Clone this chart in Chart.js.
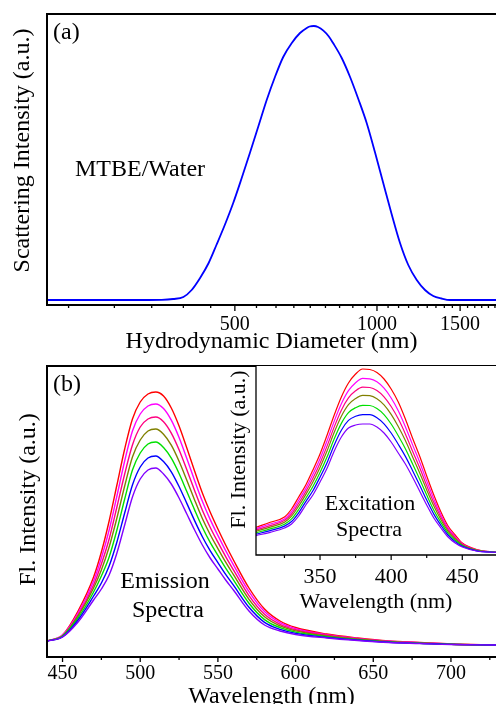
<!DOCTYPE html>
<html lang="en">
<head>
<meta charset="UTF-8">
<title>DLS and fluorescence spectra</title>
<style>
  body { margin: 0; width: 496px; height: 704px; overflow: hidden; background: #fff; position: relative; }
  canvas { position: absolute; }
</style>
</head>
<body>
<canvas id="dlsChart" width="496" height="360" style="left:0;top:0"></canvas>
<canvas id="emChart" width="496" height="360" style="left:0;top:360px"></canvas>
<canvas id="exChart" width="296" height="260" style="left:200px;top:360px"></canvas>

<script src="https://cdn.jsdelivr.net/npm/chart.js"></script>
<script>
// ---- (a) DLS size distribution ----
const diam = [200, 300, 350, 370, 389, 405, 422, 440, 457, 476, 496, 517, 538, 561, 584, 608, 633, 660, 687, 710, 720, 735,
              750, 770, 790, 808, 842, 877, 913, 951, 990, 1031, 1074, 1119, 1165, 1214, 1264, 1316, 1370, 1428, 1550, 1787];
const scatter = [5, 5, 5.2, 6, 8, 15, 27, 42, 60, 80, 102, 127, 152, 179, 205, 228, 248, 262, 272, 277, 278.5, 279,
                 278, 274.4, 268.8, 261.7, 247, 228, 206, 182, 153, 122, 91, 62, 40, 25, 15, 9, 6.5, 5, 5, 5];
const diamMajor = [500, 1000, 1500];
const diamMinor = [222.2, 277.8, 333.3, 388.9, 444.4, 555.6, 611.1, 666.7, 722.2, 777.8, 833.3, 888.9, 944.4,
                   1055.6, 1111.1, 1166.7, 1222.2, 1277.8, 1333.3, 1388.9, 1444.4, 1555.6, 1611.1, 1666.7, 1722.2, 1777.8];

// ---- (b) emission spectra ----
const wl = [440, 450, 460, 470, 475, 480, 485, 490, 495, 500, 505, 510, 515, 520, 525, 530, 535, 540, 545, 550, 555, 560, 570, 580, 590, 600, 620, 640, 660, 680, 700, 729];
const emRed     = [16, 22, 46, 80, 105, 136, 172, 208, 238, 255, 263, 265, 261, 249, 231, 209, 186, 164, 145, 128, 112, 97, 69, 48, 36, 29.5, 23, 19, 16, 14.5, 13, 12];
const emMagenta = [16, 22, 44, 76, 99, 127, 161, 196, 226, 243, 251, 253, 248.5, 236.8, 219.5, 198.4, 176.6, 155.7, 137.6, 121.6, 106.4, 92.2, 65.3, 45.4, 34.4, 28.4, 22.4, 18.6, 15.8, 14.4, 12.9, 12];
const emPink    = [16, 21, 42, 72, 93, 118, 150, 183, 212, 230, 238, 240, 235.3, 223.9, 207.2, 187.2, 166.5, 146.8, 129.8, 114.8, 100.4, 87.1, 61.4, 42.7, 32.7, 27.2, 21.7, 18.2, 15.5, 14.2, 12.8, 12];
const emOlive   = [16, 21, 41, 69, 87, 110, 139, 171, 200, 217, 226, 228, 222.8, 211.8, 195.7, 176.7, 157.1, 138.5, 122.5, 108.4, 94.8, 82.3, 57.7, 40.2, 31.1, 26.1, 21, 17.8, 15.3, 14, 12.8, 12];
const emGreen   = [16, 21, 39, 65, 81, 100, 127, 158, 187, 204, 213, 215, 209.5, 198.8, 183.5, 165.4, 147.1, 129.7, 114.6, 101.6, 88.9, 77.2, 53.8, 37.4, 29.4, 24.9, 20.4, 17.3, 15, 13.8, 12.7, 12];
const emBlue    = [16, 20, 37, 61, 74, 91, 115, 144, 172, 190, 199, 201, 195.5, 185.2, 170.5, 153.6, 136.4, 120.3, 106.4, 94.4, 82.6, 71.8, 49.7, 34.6, 27.6, 23.6, 19.6, 16.9, 14.7, 13.6, 12.6, 12];
const emViolet  = [16, 20, 35, 57, 68, 82, 104, 132, 160, 178, 187, 189, 183, 173, 159, 143, 127, 112, 99, 88, 77, 67, 46, 32, 26, 22.5, 19, 16.5, 14.5, 13.5, 12.5, 12];
const emMajor = [450, 500, 550, 600, 650, 700];
const emMinor = [475, 525, 575, 625, 675, 725];

// ---- (b) inset: excitation spectra ----
const ex = [305, 315, 325, 330, 335, 340, 345, 350, 355, 360, 365, 370, 375, 380, 385, 390, 395, 400, 405, 410, 415, 420, 425, 430, 435, 440, 445, 450, 460, 474];
const exRed     = [27.7, 32.7, 38, 46, 58, 70, 85, 101, 120, 140, 158, 172, 181, 186, 185.5, 182.5, 176, 166, 153, 136, 117, 99, 79, 60, 43, 29, 20, 12, 5.5, 2.7];
const exMagenta = [26.3, 31, 36.1, 43.4, 54.8, 66.6, 80.7, 96.2, 114.4, 133.9, 151.2, 164.3, 172.3, 176.6, 176.2, 173.2, 166.8, 157, 144.3, 128.3, 110.4, 93, 74.1, 56.1, 40.3, 27.1, 18.6, 11.3, 5.2, 2.7];
const exPink    = [25, 29.4, 34.4, 41, 51.7, 63.4, 76.7, 91.8, 109.1, 128.1, 144.8, 157.1, 164.2, 167.8, 167.5, 164.5, 158.2, 148.5, 136.2, 121.1, 104.1, 87.4, 69.4, 52.4, 37.7, 25.4, 17.4, 10.7, 5, 2.7];
const exOlive   = [23.7, 27.9, 32.7, 38.8, 48.9, 60.4, 73, 87.6, 104.2, 122.7, 138.8, 150.4, 156.5, 159.6, 159.3, 156.3, 150.1, 140.6, 128.5, 114.4, 98.3, 82.2, 65.1, 49, 35.3, 23.7, 16.2, 10.1, 4.8, 2.7];
const exGreen   = [22.2, 26.1, 30.7, 36.1, 45.5, 56.8, 68.5, 82.5, 98.2, 116.2, 131.6, 142.3, 147.3, 149.7, 149.5, 146.5, 140.4, 131, 119.3, 106.3, 91.3, 75.9, 59.9, 44.8, 32.4, 21.7, 14.7, 9.4, 4.5, 2.7];
const exBlue    = [20.8, 24.4, 28.9, 33.5, 42.2, 53.4, 64.2, 77.8, 92.6, 110.1, 124.8, 134.6, 138.7, 140.3, 140.3, 137.3, 131.2, 122, 110.7, 98.6, 84.6, 70, 54.9, 40.9, 29.7, 19.9, 13.4, 8.7, 4.2, 2.7];
const exViolet  = [19.4, 22.7, 27, 31, 39, 50, 60, 73, 87, 104, 118, 127, 130, 131, 131, 128, 122, 113, 102, 91, 78, 64, 50, 37, 27, 18, 12, 8, 4, 2.7];
const exMajor = [350, 400, 450];
const exMinor = [325, 375, 425];

const serif = "'Liberation Serif', 'Times New Roman', serif";
Chart.defaults.font.family = serif;
Chart.defaults.color = '#000';

// axis frame, outward tick marks and free text notes (Origin look)
const frame = {
  id: 'frame',
  beforeDraw(chart, args, o) {
    if (!o.fill) return;
    const { ctx, chartArea: a } = chart;
    ctx.save();
    ctx.fillStyle = '#fff';
    ctx.fillRect(a.left, a.top, a.right - a.left, a.bottom - a.top);
    ctx.restore();
  },
  afterDraw(chart, args, o) {
    const { ctx, chartArea: a } = chart;
    const x = chart.scales.x;
    ctx.save();
    ctx.strokeStyle = '#000';
    ctx.lineCap = 'square';
    ctx.lineWidth = o.width;
    ctx.beginPath();
    if (o.top) { ctx.moveTo(a.left, a.top); ctx.lineTo(a.right + 2, a.top); }
    ctx.moveTo(a.left, a.top);
    ctx.lineTo(a.left, a.bottom);
    ctx.lineTo(a.right + 2, a.bottom);
    ctx.stroke();

    ctx.lineCap = 'butt';
    ctx.lineWidth = o.tickWidth;
    ctx.beginPath();
    o.major.forEach(v => {
      const p = x.getPixelForValue(v);
      ctx.moveTo(p, a.bottom); ctx.lineTo(p, a.bottom + o.majorLen);
    });
    o.minor.forEach(v => {
      const p = x.getPixelForValue(v);
      ctx.moveTo(p, a.bottom); ctx.lineTo(p, a.bottom + o.minorLen);
    });
    ctx.stroke();

    ctx.fillStyle = '#000';
    ctx.textBaseline = 'alphabetic';
    o.notes.forEach(n => {
      ctx.font = n.size + 'px ' + serif;
      ctx.textAlign = n.align;
      ctx.fillText(n.text, n.x, n.y);
    });
    ctx.restore();
  }
};

function series(xs, ys, color, width) {
  return {
    data: xs.map((v, i) => ({ x: v, y: ys[i] })),
    borderColor: color,
    borderWidth: width,
    pointRadius: 0,
    fill: false,
    cubicInterpolationMode: 'monotone'
  };
}

// y axes carry only a title; leading spaces nudge it up like Origin does
function yAxis(max, text, size, width, pad) {
  return {
    type: 'linear', min: 0, max: max,
    ticks: { display: false },
    grid: { display: false, drawTicks: false },
    border: { display: false },
    title: { display: true, text: text, font: { size: size, family: serif }, padding: { top: pad, bottom: 0 } },
    afterFit: s => { s.width = width; }
  };
}

const base = {
  responsive: false,
  animation: false,
  devicePixelRatio: 1,
  events: []
};

// (a)
new Chart(document.getElementById('dlsChart'), {
  type: 'line',
  data: { datasets: [series(diam, scatter, '#0000ff', 1.8)] },
  options: Object.assign({}, base, {
    layout: { padding: { top: 14, left: 0, right: 0, bottom: 0 } },
    plugins: {
      legend: { display: false }, tooltip: { enabled: false },
      frame: {
        top: true, fill: false, width: 2, tickWidth: 1.3, majorLen: 6, minorLen: 3,
        major: diamMajor, minor: diamMinor,
        notes: [
          { text: '(a)', x: 53, y: 39, size: 24, align: 'left' },
          { text: 'MTBE/Water', x: 75, y: 176, size: 24, align: 'left' }
        ]
      }
    },
    scales: {
      x: {
        type: 'logarithmic', min: 200, max: 1787,
        grid: { display: false, drawTicks: false }, border: { display: false },
        afterBuildTicks: s => { s.ticks = diamMajor.map(v => ({ value: v })); },
        ticks: { autoSkip: false, maxRotation: 0, padding: 8, font: { size: 20 }, callback: v => String(v) },
        title: { display: true, text: 'Hydrodynamic Diameter (nm)', font: { size: 24, family: serif }, padding: { top: 0, bottom: 4 } },
        afterFit: s => { s.height = 55; }
      },
      y: yAxis(291, '   Scattering Intensity (a.u.)', 24, 47, 8)
    }
  }),
  plugins: [frame]
});

// (b) emission
new Chart(document.getElementById('emChart'), {
  type: 'line',
  data: {
    datasets: [
      series(wl, emViolet, '#8000ff', 1.4),
      series(wl, emBlue, '#0000ff', 1.4),
      series(wl, emGreen, '#00e000', 1.4),
      series(wl, emOlive, '#808000', 1.4),
      series(wl, emPink, '#ff0080', 1.4),
      series(wl, emMagenta, '#ff00ff', 1.4),
      series(wl, emRed, '#ff0000', 1.4)
    ]
  },
  options: Object.assign({}, base, {
    layout: { padding: { top: 6, left: 0, right: 0, bottom: 0 } },
    plugins: {
      legend: { display: false }, tooltip: { enabled: false },
      frame: {
        top: true, fill: false, width: 2, tickWidth: 1.3, majorLen: 5, minorLen: 3,
        major: emMajor, minor: emMinor,
        notes: [
          { text: '(b)', x: 53, y: 31, size: 24, align: 'left' },
          { text: 'Emission', x: 165, y: 228, size: 24, align: 'center' },
          { text: 'Spectra', x: 168, y: 257, size: 24, align: 'center' }
        ]
      }
    },
    scales: {
      x: {
        type: 'linear', min: 440, max: 729,
        grid: { display: false, drawTicks: false }, border: { display: false },
        afterBuildTicks: s => { s.ticks = emMajor.map(v => ({ value: v })); },
        ticks: { autoSkip: false, maxRotation: 0, padding: 5, font: { size: 20 } },
        title: { display: true, text: 'Wavelength (nm)', font: { size: 24, family: serif }, padding: { top: 0, bottom: 9 } },
        afterFit: s => { s.height = 63; }
      },
      y: yAxis(291, '    Fl. Intensity (a.u.)', 24, 47, 14)
    }
  }),
  plugins: [frame]
});

// (b) inset: excitation
new Chart(document.getElementById('exChart'), {
  type: 'line',
  data: {
    datasets: [
      series(ex, exViolet, '#8000ff', 1.2),
      series(ex, exBlue, '#0000ff', 1.2),
      series(ex, exGreen, '#00e000', 1.2),
      series(ex, exOlive, '#808000', 1.2),
      series(ex, exPink, '#ff0080', 1.2),
      series(ex, exMagenta, '#ff00ff', 1.2),
      series(ex, exRed, '#ff0000', 1.2)
    ]
  },
  options: Object.assign({}, base, {
    layout: { padding: { top: 6, left: 0, right: 0, bottom: 0 } },
    plugins: {
      legend: { display: false }, tooltip: { enabled: false },
      frame: {
        top: false, fill: true, width: 1.3, tickWidth: 1.2, majorLen: 5, minorLen: 3,
        major: exMajor, minor: exMinor,
        notes: [
          { text: 'Excitation', x: 170, y: 150, size: 22, align: 'center' },
          { text: 'Spectra', x: 169, y: 176, size: 22, align: 'center' }
        ]
      }
    },
    scales: {
      x: {
        type: 'linear', min: 305, max: 473.7,
        grid: { display: false, drawTicks: false }, border: { display: false },
        afterBuildTicks: s => { s.ticks = exMajor.map(v => ({ value: v })); },
        ticks: { autoSkip: false, maxRotation: 0, padding: 9, font: { size: 22 } },
        title: { display: true, text: 'Wavelength (nm)', font: { size: 22, family: serif }, padding: { top: 0, bottom: 5 } },
        afterFit: s => { s.height = 65; }
      },
      y: yAxis(189, '    Fl. Intensity (a.u.)', 22, 56, 26)
    }
  }),
  plugins: [frame]
});
</script>
</body>
</html>
